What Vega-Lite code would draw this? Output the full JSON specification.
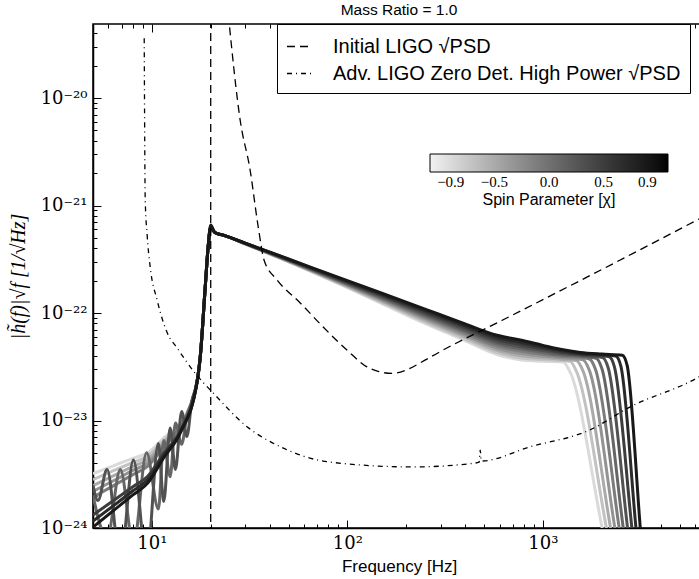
{
"$schema":"https://vega.github.io/schema/vega-lite/v6.json",
"width":612,"height":504,
"autosize":{"type":"none"},
"padding":{"left":93,"top":24,"right":0,"bottom":51},
"background":"white",
"title":{"text":"Mass Ratio = 1.0","font":"Liberation Sans","fontSize":15.5,"fontWeight":"normal","anchor":"middle","offset":5,"color":"black"},
"config":{"view":{"stroke":"black","strokeWidth":1.5},"axis":{"grid":false,"domainColor":"black","domainWidth":1.5,"tickColor":"black","tickWidth":1,"labelColor":"black","titleColor":"black"}},
"resolve":{"axis":{"x":"independent","y":"independent"}},
"datasets":{
"curves":[
{"s":-0.9,"f":5,"h":3.2e-24},{"s":-0.9,"f":6.5,"h":3.85e-24},{"s":-0.9,"f":8,"h":4.45e-24},{"s":-0.9,"f":9.5,"h":5.0e-24},{"s":-0.9,"f":11.5,"h":6.9e-24},{"s":-0.9,"f":14,"h":9.5e-24},{"s":-0.9,"f":17,"h":2.3e-23},{"s":-0.9,"f":17.7,"h":4.0e-23},{"s":-0.9,"f":18.75,"h":1.75e-22},{"s":-0.9,"f":19.4,"h":4.1e-22},{"s":-0.9,"f":20,"h":6.3e-22},{"s":-0.9,"f":21,"h":5.6e-22},{"s":-0.9,"f":23.2,"h":5.3e-22},{"s":-0.9,"f":30,"h":4.38e-22},{"s":-0.9,"f":50,"h":2.99e-22},{"s":-0.9,"f":100,"h":1.72e-22},{"s":-0.9,"f":150,"h":1.224e-22},{"s":-0.9,"f":236,"h":8.36e-23},{"s":-0.9,"f":400,"h":5.53e-23},{"s":-0.9,"f":583,"h":4.10e-23},{"s":-0.9,"f":766,"h":3.67e-23},{"s":-0.9,"f":1000,"h":3.55e-23},{"s":-0.9,"f":1270,"h":3.5e-23},{"s":-0.9,"f":1380,"h":2.8e-23},{"s":-0.9,"f":2009,"h":1e-24},{"s":-0.9,"f":2594,"h":1e-25},
{"s":-0.7,"f":5,"h":2.82e-24},{"s":-0.7,"f":6.5,"h":3.47e-24},{"s":-0.7,"f":8,"h":4.07e-24},{"s":-0.7,"f":9.5,"h":4.65e-24},{"s":-0.7,"f":11.5,"h":6.58e-24},{"s":-0.7,"f":14,"h":9.3e-24},{"s":-0.7,"f":17,"h":2.3e-23},{"s":-0.7,"f":17.7,"h":4.0e-23},{"s":-0.7,"f":18.75,"h":1.75e-22},{"s":-0.7,"f":19.4,"h":4.1e-22},{"s":-0.7,"f":20,"h":6.3e-22},{"s":-0.7,"f":21,"h":5.6e-22},{"s":-0.7,"f":23.2,"h":5.3e-22},{"s":-0.7,"f":30,"h":4.39e-22},{"s":-0.7,"f":50,"h":3.01e-22},{"s":-0.7,"f":100,"h":1.75e-22},{"s":-0.7,"f":150,"h":1.255e-22},{"s":-0.7,"f":236,"h":8.64e-23},{"s":-0.7,"f":400,"h":5.75e-23},{"s":-0.7,"f":583,"h":4.29e-23},{"s":-0.7,"f":766,"h":3.84e-23},{"s":-0.7,"f":1000,"h":3.69e-23},{"s":-0.7,"f":1228,"h":3.61e-23},{"s":-0.7,"f":1374,"h":3.56e-23},{"s":-0.7,"f":1486,"h":2.85e-23},{"s":-0.7,"f":2113,"h":1e-24},{"s":-0.7,"f":2679,"h":1e-25},
{"s":-0.5,"f":5,"h":2.48e-24},{"s":-0.5,"f":6.5,"h":3.12e-24},{"s":-0.5,"f":8,"h":3.74e-24},{"s":-0.5,"f":9.5,"h":4.33e-24},{"s":-0.5,"f":11.5,"h":6.27e-24},{"s":-0.5,"f":14,"h":9.08e-24},{"s":-0.5,"f":17,"h":2.29e-23},{"s":-0.5,"f":17.7,"h":4.0e-23},{"s":-0.5,"f":18.75,"h":1.75e-22},{"s":-0.5,"f":19.4,"h":4.1e-22},{"s":-0.5,"f":20,"h":6.3e-22},{"s":-0.5,"f":21,"h":5.6e-22},{"s":-0.5,"f":23.2,"h":5.3e-22},{"s":-0.5,"f":30,"h":4.40e-22},{"s":-0.5,"f":50,"h":3.03e-22},{"s":-0.5,"f":100,"h":1.78e-22},{"s":-0.5,"f":150,"h":1.287e-22},{"s":-0.5,"f":236,"h":8.94e-23},{"s":-0.5,"f":400,"h":5.99e-23},{"s":-0.5,"f":583,"h":4.49e-23},{"s":-0.5,"f":766,"h":4.03e-23},{"s":-0.5,"f":1000,"h":3.83e-23},{"s":-0.5,"f":1228,"h":3.72e-23},{"s":-0.5,"f":1483,"h":3.61e-23},{"s":-0.5,"f":1603,"h":2.89e-23},{"s":-0.5,"f":2218,"h":1e-24},{"s":-0.5,"f":2773,"h":1e-25},
{"s":-0.3,"f":5,"h":2.19e-24},{"s":-0.3,"f":6.5,"h":2.81e-24},{"s":-0.3,"f":8,"h":3.43e-24},{"s":-0.3,"f":9.5,"h":4.02e-24},{"s":-0.3,"f":11.5,"h":5.98e-24},{"s":-0.3,"f":14,"h":8.87e-24},{"s":-0.3,"f":17,"h":2.28e-23},{"s":-0.3,"f":17.7,"h":4.0e-23},{"s":-0.3,"f":18.75,"h":1.75e-22},{"s":-0.3,"f":19.4,"h":4.1e-22},{"s":-0.3,"f":20,"h":6.3e-22},{"s":-0.3,"f":21,"h":5.6e-22},{"s":-0.3,"f":23.2,"h":5.3e-22},{"s":-0.3,"f":30,"h":4.41e-22},{"s":-0.3,"f":50,"h":3.05e-22},{"s":-0.3,"f":100,"h":1.81e-22},{"s":-0.3,"f":150,"h":1.319e-22},{"s":-0.3,"f":236,"h":9.24e-23},{"s":-0.3,"f":400,"h":6.23e-23},{"s":-0.3,"f":583,"h":4.70e-23},{"s":-0.3,"f":766,"h":4.22e-23},{"s":-0.3,"f":1000,"h":3.98e-23},{"s":-0.3,"f":1228,"h":3.84e-23},{"s":-0.3,"f":1603,"h":3.67e-23},{"s":-0.3,"f":1726,"h":2.94e-23},{"s":-0.3,"f":2333,"h":1e-24},{"s":-0.3,"f":2864,"h":1e-25},
{"s":-0.1,"f":5,"h":1.93e-24},{"s":-0.1,"f":6.5,"h":2.53e-24},{"s":-0.1,"f":8,"h":3.14e-24},{"s":-0.1,"f":9.5,"h":3.74e-24},{"s":-0.1,"f":11.5,"h":5.70e-24},{"s":-0.1,"f":14,"h":8.67e-24},{"s":-0.1,"f":17,"h":2.27e-23},{"s":-0.1,"f":17.7,"h":4.0e-23},{"s":-0.1,"f":18.75,"h":1.75e-22},{"s":-0.1,"f":19.4,"h":4.1e-22},{"s":-0.1,"f":20,"h":6.3e-22},{"s":-0.1,"f":21,"h":5.6e-22},{"s":-0.1,"f":23.2,"h":5.3e-22},{"s":-0.1,"f":30,"h":4.42e-22},{"s":-0.1,"f":50,"h":3.07e-22},{"s":-0.1,"f":100,"h":1.84e-22},{"s":-0.1,"f":150,"h":1.352e-22},{"s":-0.1,"f":236,"h":9.56e-23},{"s":-0.1,"f":400,"h":6.48e-23},{"s":-0.1,"f":583,"h":4.92e-23},{"s":-0.1,"f":766,"h":4.43e-23},{"s":-0.1,"f":1000,"h":4.14e-23},{"s":-0.1,"f":1228,"h":3.96e-23},{"s":-0.1,"f":1553,"h":3.85e-23},{"s":-0.1,"f":1730,"h":3.73e-23},{"s":-0.1,"f":1858,"h":2.98e-23},{"s":-0.1,"f":2455,"h":1e-24},{"s":-0.1,"f":2958,"h":1e-25},
{"s":0.1,"f":5,"h":2.0e-24},{"s":0.1,"f":5.9,"h":8e-25},{"s":0.1,"f":6.9,"h":3.5e-24},{"s":0.1,"f":8.05,"h":7e-25},{"s":0.1,"f":9.4,"h":5.0e-24},{"s":0.1,"f":10.8,"h":1.5e-24},{"s":0.1,"f":11.5,"h":6.5e-24},{"s":0.1,"f":12.4,"h":3.0e-24},{"s":0.1,"f":13.2,"h":9.5e-24},{"s":0.1,"f":14.2,"h":6.0e-24},{"s":0.1,"f":15.1,"h":1.1e-23},{"s":0.1,"f":16,"h":1.5e-23},{"s":0.1,"f":17,"h":2.25e-23},{"s":0.1,"f":17.7,"h":4.0e-23},{"s":0.1,"f":18.75,"h":1.75e-22},{"s":0.1,"f":19.4,"h":4.1e-22},{"s":0.1,"f":20,"h":6.3e-22},{"s":0.1,"f":21,"h":5.6e-22},{"s":0.1,"f":23.2,"h":5.3e-22},{"s":0.1,"f":30,"h":4.43e-22},{"s":0.1,"f":50,"h":3.09e-22},{"s":0.1,"f":100,"h":1.87e-22},{"s":0.1,"f":150,"h":1.386e-22},{"s":0.1,"f":236,"h":9.88e-23},{"s":0.1,"f":400,"h":6.74e-23},{"s":0.1,"f":583,"h":5.16e-23},{"s":0.1,"f":766,"h":4.64e-23},{"s":0.1,"f":1000,"h":4.30e-23},{"s":0.1,"f":1228,"h":4.08e-23},{"s":0.1,"f":1553,"h":3.95e-23},{"s":0.1,"f":1871,"h":3.79e-23},{"s":0.1,"f":2004,"h":3.03e-23},{"s":0.1,"f":2576,"h":1e-24},{"s":0.1,"f":3062,"h":1e-25},
{"s":0.3,"f":5,"h":2.5e-24},{"s":0.3,"f":5.3,"h":1.8e-24},{"s":0.3,"f":5.9,"h":3.5e-24},{"s":0.3,"f":6.9,"h":5e-25},{"s":0.3,"f":8.05,"h":4.3e-24},{"s":0.3,"f":9.4,"h":5e-25},{"s":0.3,"f":10.8,"h":6.1e-24},{"s":0.3,"f":11.5,"h":1.76e-24},{"s":0.3,"f":12.4,"h":8.5e-24},{"s":0.3,"f":13.2,"h":3.5e-24},{"s":0.3,"f":14.2,"h":1.21e-23},{"s":0.3,"f":15.1,"h":7.1e-24},{"s":0.3,"f":16,"h":1.5e-23},{"s":0.3,"f":17,"h":2.25e-23},{"s":0.3,"f":17.7,"h":4.0e-23},{"s":0.3,"f":18.75,"h":1.75e-22},{"s":0.3,"f":19.4,"h":4.1e-22},{"s":0.3,"f":20,"h":6.3e-22},{"s":0.3,"f":21,"h":5.6e-22},{"s":0.3,"f":23.2,"h":5.3e-22},{"s":0.3,"f":30,"h":4.44e-22},{"s":0.3,"f":50,"h":3.11e-22},{"s":0.3,"f":100,"h":1.90e-22},{"s":0.3,"f":150,"h":1.420e-22},{"s":0.3,"f":236,"h":1.022e-22},{"s":0.3,"f":400,"h":7.01e-23},{"s":0.3,"f":583,"h":5.40e-23},{"s":0.3,"f":766,"h":4.86e-23},{"s":0.3,"f":1000,"h":4.47e-23},{"s":0.3,"f":1228,"h":4.21e-23},{"s":0.3,"f":1553,"h":4.05e-23},{"s":0.3,"f":2018,"h":3.85e-23},{"s":0.3,"f":2158,"h":3.08e-23},{"s":0.3,"f":2710,"h":1e-24},{"s":0.3,"f":3162,"h":1e-25},
{"s":0.5,"f":5,"h":1.32e-24},{"s":0.5,"f":6.5,"h":1.85e-24},{"s":0.5,"f":8,"h":2.42e-24},{"s":0.5,"f":9.5,"h":3.01e-24},{"s":0.5,"f":11.5,"h":4.94e-24},{"s":0.5,"f":14,"h":8.07e-24},{"s":0.5,"f":17,"h":2.25e-23},{"s":0.5,"f":17.7,"h":4.0e-23},{"s":0.5,"f":18.75,"h":1.75e-22},{"s":0.5,"f":19.4,"h":4.1e-22},{"s":0.5,"f":20,"h":6.3e-22},{"s":0.5,"f":21,"h":5.6e-22},{"s":0.5,"f":23.2,"h":5.3e-22},{"s":0.5,"f":30,"h":4.45e-22},{"s":0.5,"f":50,"h":3.14e-22},{"s":0.5,"f":100,"h":1.93e-22},{"s":0.5,"f":150,"h":1.456e-22},{"s":0.5,"f":236,"h":1.057e-22},{"s":0.5,"f":400,"h":7.30e-23},{"s":0.5,"f":583,"h":5.65e-23},{"s":0.5,"f":766,"h":5.10e-23},{"s":0.5,"f":1000,"h":4.64e-23},{"s":0.5,"f":1228,"h":4.34e-23},{"s":0.5,"f":1553,"h":4.12e-23},{"s":0.5,"f":2000,"h":4.0e-23},{"s":0.5,"f":2183,"h":3.92e-23},{"s":0.5,"f":2323,"h":3.14e-23},{"s":0.5,"f":2851,"h":1e-24},{"s":0.5,"f":3266,"h":1e-25},
{"s":0.7,"f":5,"h":1.16e-24},{"s":0.7,"f":6.5,"h":1.66e-24},{"s":0.7,"f":8,"h":2.22e-24},{"s":0.7,"f":9.5,"h":2.80e-24},{"s":0.7,"f":11.5,"h":4.71e-24},{"s":0.7,"f":14,"h":7.89e-24},{"s":0.7,"f":17,"h":2.24e-23},{"s":0.7,"f":17.7,"h":4.0e-23},{"s":0.7,"f":18.75,"h":1.75e-22},{"s":0.7,"f":19.4,"h":4.1e-22},{"s":0.7,"f":20,"h":6.3e-22},{"s":0.7,"f":21,"h":5.6e-22},{"s":0.7,"f":23.2,"h":5.3e-22},{"s":0.7,"f":30,"h":4.46e-22},{"s":0.7,"f":50,"h":3.16e-22},{"s":0.7,"f":100,"h":1.97e-22},{"s":0.7,"f":150,"h":1.492e-22},{"s":0.7,"f":236,"h":1.093e-22},{"s":0.7,"f":400,"h":7.59e-23},{"s":0.7,"f":583,"h":5.92e-23},{"s":0.7,"f":766,"h":5.34e-23},{"s":0.7,"f":1000,"h":4.82e-23},{"s":0.7,"f":1228,"h":4.47e-23},{"s":0.7,"f":1553,"h":4.2e-23},{"s":0.7,"f":2000,"h":4.08e-23},{"s":0.7,"f":2355,"h":3.98e-23},{"s":0.7,"f":2506,"h":3.18e-23},{"s":0.7,"f":2992,"h":1e-24},{"s":0.7,"f":3381,"h":1e-25},
{"s":0.9,"f":5,"h":1.02e-24},{"s":0.9,"f":6.5,"h":1.5e-24},{"s":0.9,"f":8,"h":2.03e-24},{"s":0.9,"f":9.5,"h":2.6e-24},{"s":0.9,"f":11.5,"h":4.5e-24},{"s":0.9,"f":14,"h":7.7e-24},{"s":0.9,"f":17,"h":2.23e-23},{"s":0.9,"f":17.7,"h":4.0e-23},{"s":0.9,"f":18.75,"h":1.75e-22},{"s":0.9,"f":19.4,"h":4.1e-22},{"s":0.9,"f":20,"h":6.6e-22},{"s":0.9,"f":21,"h":5.6e-22},{"s":0.9,"f":23.2,"h":5.3e-22},{"s":0.9,"f":30,"h":4.47e-22},{"s":0.9,"f":50,"h":3.18e-22},{"s":0.9,"f":100,"h":2.0e-22},{"s":0.9,"f":150,"h":1.53e-22},{"s":0.9,"f":236,"h":1.13e-22},{"s":0.9,"f":400,"h":7.9e-23},{"s":0.9,"f":583,"h":6.2e-23},{"s":0.9,"f":766,"h":5.6e-23},{"s":0.9,"f":1000,"h":5.0e-23},{"s":0.9,"f":1228,"h":4.6e-23},{"s":0.9,"f":1553,"h":4.3e-23},{"s":0.9,"f":2000,"h":4.15e-23},{"s":0.9,"f":2547,"h":4.05e-23},{"s":0.9,"f":2698,"h":3.24e-23},{"s":0.9,"f":3148,"h":1e-24},{"s":0.9,"f":3491,"h":1e-25}
],
"psd":[
{"c":"Initial LIGO √PSD","f":24.6,"h":6e-20},{"c":"Initial LIGO √PSD","f":28.3,"h":6.2e-21},{"c":"Initial LIGO √PSD","f":31.8,"h":2.14e-21},{"c":"Initial LIGO √PSD","f":35.0,"h":6.3e-22},{"c":"Initial LIGO √PSD","f":37.5,"h":3.1e-22},{"c":"Initial LIGO √PSD","f":43.7,"h":2.03e-22},{"c":"Initial LIGO √PSD","f":57.4,"h":1.24e-22},{"c":"Initial LIGO √PSD","f":75.2,"h":7.4e-23},{"c":"Initial LIGO √PSD","f":99.8,"h":4.5e-23},{"c":"Initial LIGO √PSD","f":126,"h":3.15e-23},{"c":"Initial LIGO √PSD","f":145,"h":2.85e-23},{"c":"Initial LIGO √PSD","f":169,"h":2.74e-23},{"c":"Initial LIGO √PSD","f":200,"h":2.95e-23},{"c":"Initial LIGO √PSD","f":240,"h":3.5e-23},{"c":"Initial LIGO √PSD","f":300,"h":4.4e-23},{"c":"Initial LIGO √PSD","f":583,"h":8.1e-23},{"c":"Initial LIGO √PSD","f":1500,"h":1.94e-22},{"c":"Initial LIGO √PSD","f":6745,"h":8.0e-22},
{"c":"Adv. LIGO Zero Det. High Power √PSD","f":9.14,"h":3.6e-20},{"c":"Adv. LIGO Zero Det. High Power √PSD","f":9.25,"h":1.12e-21},{"c":"Adv. LIGO Zero Det. High Power √PSD","f":9.46,"h":5.3e-22},{"c":"Adv. LIGO Zero Det. High Power √PSD","f":9.8,"h":2.7e-22},{"c":"Adv. LIGO Zero Det. High Power √PSD","f":10.64,"h":1.32e-22},{"c":"Adv. LIGO Zero Det. High Power √PSD","f":12.0,"h":6.5e-23},{"c":"Adv. LIGO Zero Det. High Power √PSD","f":13.5,"h":4.7e-23},{"c":"Adv. LIGO Zero Det. High Power √PSD","f":16.6,"h":2.77e-23},{"c":"Adv. LIGO Zero Det. High Power √PSD","f":20.6,"h":1.8e-23},{"c":"Adv. LIGO Zero Det. High Power √PSD","f":30.8,"h":8.7e-24},{"c":"Adv. LIGO Zero Det. High Power √PSD","f":45.4,"h":5.7e-24},{"c":"Adv. LIGO Zero Det. High Power √PSD","f":81.6,"h":4.1e-24},{"c":"Adv. LIGO Zero Det. High Power √PSD","f":217,"h":3.7e-24},{"c":"Adv. LIGO Zero Det. High Power √PSD","f":441,"h":4.0e-24},{"c":"Adv. LIGO Zero Det. High Power √PSD","f":472,"h":4.1e-24},{"c":"Adv. LIGO Zero Det. High Power √PSD","f":478,"h":5.3e-24},{"c":"Adv. LIGO Zero Det. High Power √PSD","f":484,"h":4.2e-24},{"c":"Adv. LIGO Zero Det. High Power √PSD","f":863,"h":5.7e-24},{"c":"Adv. LIGO Zero Det. High Power √PSD","f":1746,"h":8.2e-24},{"c":"Adv. LIGO Zero Det. High Power √PSD","f":2798,"h":1.34e-23},{"c":"Adv. LIGO Zero Det. High Power √PSD","f":6170,"h":2.5e-23},{"c":"Adv. LIGO Zero Det. High Power √PSD","f":6745,"h":2.75e-23}
],
"flow":[{"f":20,"h":1e-26},{"f":20,"h":1e-18}]
},
"layer":[
{"data":{"name":"curves"},
 "mark":{"type":"line","interpolate":"monotone","strokeWidth":3,"clip":true},
 "encoding":{
  "x":{"field":"f","type":"quantitative","scale":{"type":"log","domain":[5,6745],"nice":false},
   "axis":{"orient":"bottom","title":"Frequency [Hz]","titleFont":"Liberation Sans","titleFontSize":17,"titleFontWeight":"normal","titlePadding":2,
    "values":[5,6,7,8,9,10,20,30,40,50,60,70,80,90,100,200,300,400,500,600,700,800,900,1000,2000,3000,4000,5000,6000],
    "labelExpr":"datum.value==10?'10¹':datum.value==100?'10²':datum.value==1000?'10³':''",
    "labelFont":"DejaVu Serif","labelFontSize":18,"labelFlush":false,"labelOverlap":false,"labelPadding":14,
    "tickSize":{"condition":{"test":"datum.value==10||datum.value==100||datum.value==1000","value":-8},"value":-4}}},
  "y":{"field":"h","type":"quantitative","scale":{"type":"log","domain":[1e-24,4.88e-20],"nice":false},
   "axis":{"orient":"left","title":"|h̃(f)|√f [1/√Hz]","titleFont":"Liberation Serif","titleFontStyle":"italic","titleFontSize":20,"titleFontWeight":"normal","titlePadding":12,
    "values":[1e-24,2e-24,3e-24,4e-24,5e-24,6e-24,7e-24,8e-24,9e-24,1e-23,2e-23,3e-23,4e-23,5e-23,6e-23,7e-23,8e-23,9e-23,1e-22,2e-22,3e-22,4e-22,5e-22,6e-22,7e-22,8e-22,9e-22,1e-21,2e-21,3e-21,4e-21,5e-21,6e-21,7e-21,8e-21,9e-21,1e-20,2e-20,3e-20,4e-20],
    "labelExpr":"datum.value==1e-20?'10⁻²⁰':datum.value==1e-21?'10⁻²¹':datum.value==1e-22?'10⁻²²':datum.value==1e-23?'10⁻²³':datum.value==1e-24?'10⁻²⁴':''",
    "labelFont":"DejaVu Serif","labelFontSize":18,"labelFlush":false,"labelOverlap":false,"labelPadding":14,
    "tickSize":{"condition":{"test":"datum.value==1e-20||datum.value==1e-21||datum.value==1e-22||datum.value==1e-23||datum.value==1e-24","value":-8},"value":-4}}},
  "color":{"field":"s","type":"quantitative","scale":{"domain":[-1.09,1.09],"range":["#f2f2f2","#000000"]},
   "legend":{"orient":"none","legendX":337,"legendY":130,"direction":"horizontal","gradientLength":238,"gradientThickness":18,"gradientStrokeColor":"black","gradientStrokeWidth":1,
    "values":[-0.9,-0.5,0,0.5,0.9],"format":".1f","labelFont":"Liberation Serif","labelFontSize":15,"labelColor":"black","labelOffset":3,"labelOverlap":false,
    "title":"Spin Parameter [χ]","titleFont":"Liberation Sans","titleFontSize":16,"titleFontWeight":"normal","titleColor":"black","titleOrient":"bottom","titleAnchor":"middle","titlePadding":2,"padding":0}},
  "detail":{"field":"s","type":"quantitative"}}},
{"data":{"name":"psd"},
 "mark":{"type":"line","interpolate":"monotone","color":"black","strokeWidth":1.3,"clip":true},
 "encoding":{
  "x":{"field":"f","type":"quantitative","scale":{"type":"log","domain":[5,6745],"nice":false},"axis":null},
  "y":{"field":"h","type":"quantitative","scale":{"type":"log","domain":[1e-24,4.88e-20],"nice":false},"axis":null},
  "strokeDash":{"field":"c","type":"nominal","scale":{"domain":["Initial LIGO √PSD","Adv. LIGO Zero Det. High Power √PSD"],"range":[[8,5],[5,4,1,4]]},
   "legend":{"orient":"none","legendX":184,"legendY":0,"title":null,"labelFont":"Liberation Sans","labelFontSize":20,"labelColor":"black","labelOffset":20,"labelLimit":500,
    "symbolType":"stroke","symbolSize":625,"symbolStrokeColor":"black","symbolStrokeWidth":1.3,"strokeColor":"black","fillColor":"white","padding":9,"rowPadding":3}}}},
{"data":{"name":"flow"},
 "mark":{"type":"line","color":"black","strokeWidth":1.3,"strokeDash":[8,5],"clip":true},
 "encoding":{
  "x":{"field":"f","type":"quantitative","scale":{"type":"log","domain":[5,6745],"nice":false},"axis":null},
  "y":{"field":"h","type":"quantitative","scale":{"type":"log","domain":[1e-24,4.88e-20],"nice":false},"axis":null}}},
{"data":{"name":"flow"},
 "mark":{"type":"line","opacity":0,"clip":true},
 "encoding":{
  "x":{"field":"f","type":"quantitative","scale":{"type":"log","domain":[5,6745],"nice":false},
   "axis":{"orient":"top","title":null,"labels":false,"domain":false,
    "values":[5,6,7,8,9,10,20,30,40,50,60,70,80,90,100,200,300,400,500,600,700,800,900,1000,2000,3000,4000,5000,6000],
    "tickSize":{"condition":{"test":"datum.value==10||datum.value==100||datum.value==1000","value":-8},"value":-4}}},
  "y":{"field":"h","type":"quantitative","scale":{"type":"log","domain":[1e-24,4.88e-20],"nice":false},"axis":null}}}
]
}
